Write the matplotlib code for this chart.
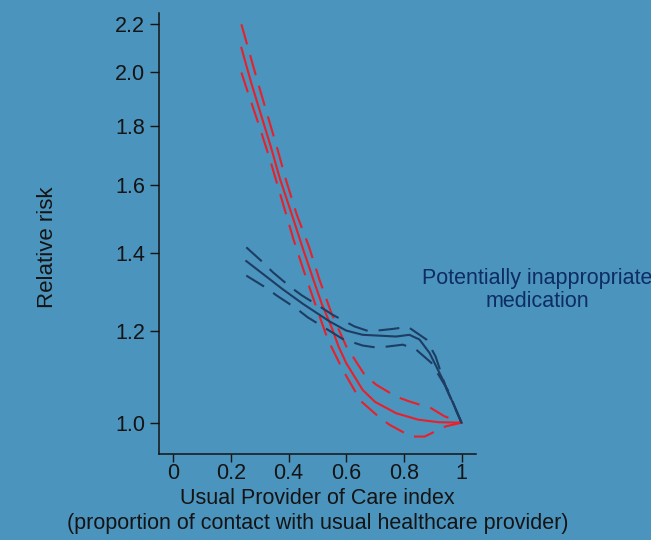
# ─────────────────────────────────────────────
# plot.py — Relative risk vs Usual Provider of Care index
# ─────────────────────────────────────────────

import matplotlib
matplotlib.use("Agg")
import matplotlib.pyplot as plt
from matplotlib.ticker import FixedLocator, NullLocator

# ── 1. DATA ──────────────────────────────────
# red curve (estimate + confidence band)
red_x     = [0.236, 0.270, 0.304, 0.338, 0.370, 0.411, 0.450, 0.486, 0.515,
             0.548, 0.573, 0.600, 0.657, 0.700, 0.773, 0.850, 0.920, 1.000]
red_mid   = [2.100, 1.960, 1.840, 1.727, 1.620, 1.510, 1.410, 1.327, 1.265,
             1.210, 1.163, 1.125, 1.067, 1.042, 1.019, 1.006, 1.001, 1.000]

red_up_x  = [0.236, 0.290, 0.359, 0.391, 0.428, 0.470, 0.507, 0.548, 0.600,
             0.663, 0.704, 0.773, 0.819, 0.895, 0.940, 1.000]
red_up    = [2.200, 1.973, 1.726, 1.616, 1.510, 1.418, 1.327, 1.243, 1.163,
             1.100, 1.078, 1.053, 1.043, 1.029, 1.013, 1.000]

red_lo_x  = [0.236, 0.260, 0.299, 0.336, 0.383, 0.417, 0.455, 0.495, 0.536,
             0.588, 0.628, 0.652, 0.710, 0.750, 0.825, 0.872, 0.946, 1.000]
red_lo    = [2.000, 1.918, 1.796, 1.681, 1.535, 1.437, 1.345, 1.259, 1.179,
             1.110, 1.067, 1.043, 1.013, 0.996, 0.973, 0.973, 0.993, 1.000]

# blue curve (estimate + confidence band)
blue_x    = [0.253, 0.380, 0.450, 0.542, 0.600, 0.657, 0.773, 0.819, 0.854,
             0.889, 0.935, 1.000]
blue_mid  = [1.377, 1.302, 1.265, 1.222, 1.200, 1.190, 1.186, 1.190, 1.179,
             1.148, 1.089, 1.000]

blue_up_x = [0.253, 0.310, 0.345, 0.408, 0.447, 0.507, 0.553, 0.628, 0.680,
             0.762, 0.814, 0.878, 0.910, 0.947, 1.000]
blue_up   = [1.415, 1.374, 1.347, 1.307, 1.286, 1.259, 1.238, 1.210, 1.198,
             1.204, 1.209, 1.179, 1.140, 1.070, 1.000]

blue_lo_x = [0.253, 0.322, 0.359, 0.428, 0.466, 0.536, 0.588, 0.657, 0.709,
             0.796, 0.840, 0.895, 0.952, 1.000]
blue_lo   = [1.338, 1.306, 1.286, 1.253, 1.232, 1.202, 1.180, 1.165, 1.160,
             1.167, 1.157, 1.126, 1.067, 1.000]

x_ticks   = [0, 0.2, 0.4, 0.6, 0.8, 1]
x_labels  = ["0", "0.2", "0.4", "0.6", "0.8", "1"]
y_ticks   = [1.0, 1.2, 1.4, 1.6, 1.8, 2.0, 2.2]
y_labels  = ["1.0", "1.2", "1.4", "1.6", "1.8", "2.0", "2.2"]

# ── 2. STYLE ─────────────────────────────────
BG      = "#4b94bd"
RED     = "#e8202a"
BLUE    = "#1d3d63"
INK     = "#141414"
NAVY    = "#0e2c66"
DASH    = (0, (15, 8))

plt.rcParams["font.family"] = ["Liberation Sans", "DejaVu Sans"]
plt.rcParams["lines.scale_dashes"] = False

# ── 3. FIGURE ────────────────────────────────
fig = plt.figure(figsize=(6.51, 5.40), dpi=100, facecolor=BG)
ax = fig.add_axes([0.2442, 0.1593, 0.4869, 0.8167], facecolor=BG)

ax.plot(red_up_x,  red_up,   color=RED,  lw=1.5, linestyle=DASH)
ax.plot(red_lo_x,  red_lo,   color=RED,  lw=1.5, linestyle=DASH)
ax.plot(red_x,     red_mid,  color=RED,  lw=1.5)

ax.plot(blue_up_x, blue_up,  color=BLUE, lw=1.5, linestyle=DASH)
ax.plot(blue_lo_x, blue_lo,  color=BLUE, lw=1.5, linestyle=DASH)
ax.plot(blue_x,    blue_mid, color=BLUE, lw=1.5)

# ── 4. AXES ──────────────────────────────────
ax.set_yscale("log")
ax.set_xlim(-0.05, 1.05)
ax.set_ylim(0.94, 2.25)

ax.xaxis.set_major_locator(FixedLocator(x_ticks))
ax.set_xticklabels(x_labels)
ax.yaxis.set_major_locator(FixedLocator(y_ticks))
ax.set_yticklabels(y_labels)
ax.yaxis.set_minor_locator(NullLocator())
ax.xaxis.set_minor_locator(NullLocator())

for side in ["top", "right"]:
    ax.spines[side].set_visible(False)
for side in ["left", "bottom"]:
    ax.spines[side].set_color(INK)
    ax.spines[side].set_linewidth(1.1)

ax.tick_params(axis="both", colors=INK, labelsize=15.5, width=1.0)
ax.tick_params(axis="y", length=6.5, pad=3.5)
ax.tick_params(axis="x", length=5.5, pad=1)

ax.set_ylabel("Relative risk", fontsize=16, color=INK)
ax.yaxis.set_label_coords(-0.318, 0.469)
ax.set_xlabel("Usual Provider of Care index\n"
              "(proportion of contact with usual healthcare provider)",
              fontsize=15.5, color=INK, linespacing=1.27)
ax.xaxis.set_label_coords(0.5, -0.077)

ax.text(1.264, 1.30, "Potentially inappropriate\nmedication",
        ha="center", va="center", fontsize=15.5, color=NAVY,
        linespacing=1.15, clip_on=False)

# ── 5. SAVE ──────────────────────────────────
fig.savefig("out.png", dpi=100, facecolor=BG)
print("📊 Chart saved to out.png")
